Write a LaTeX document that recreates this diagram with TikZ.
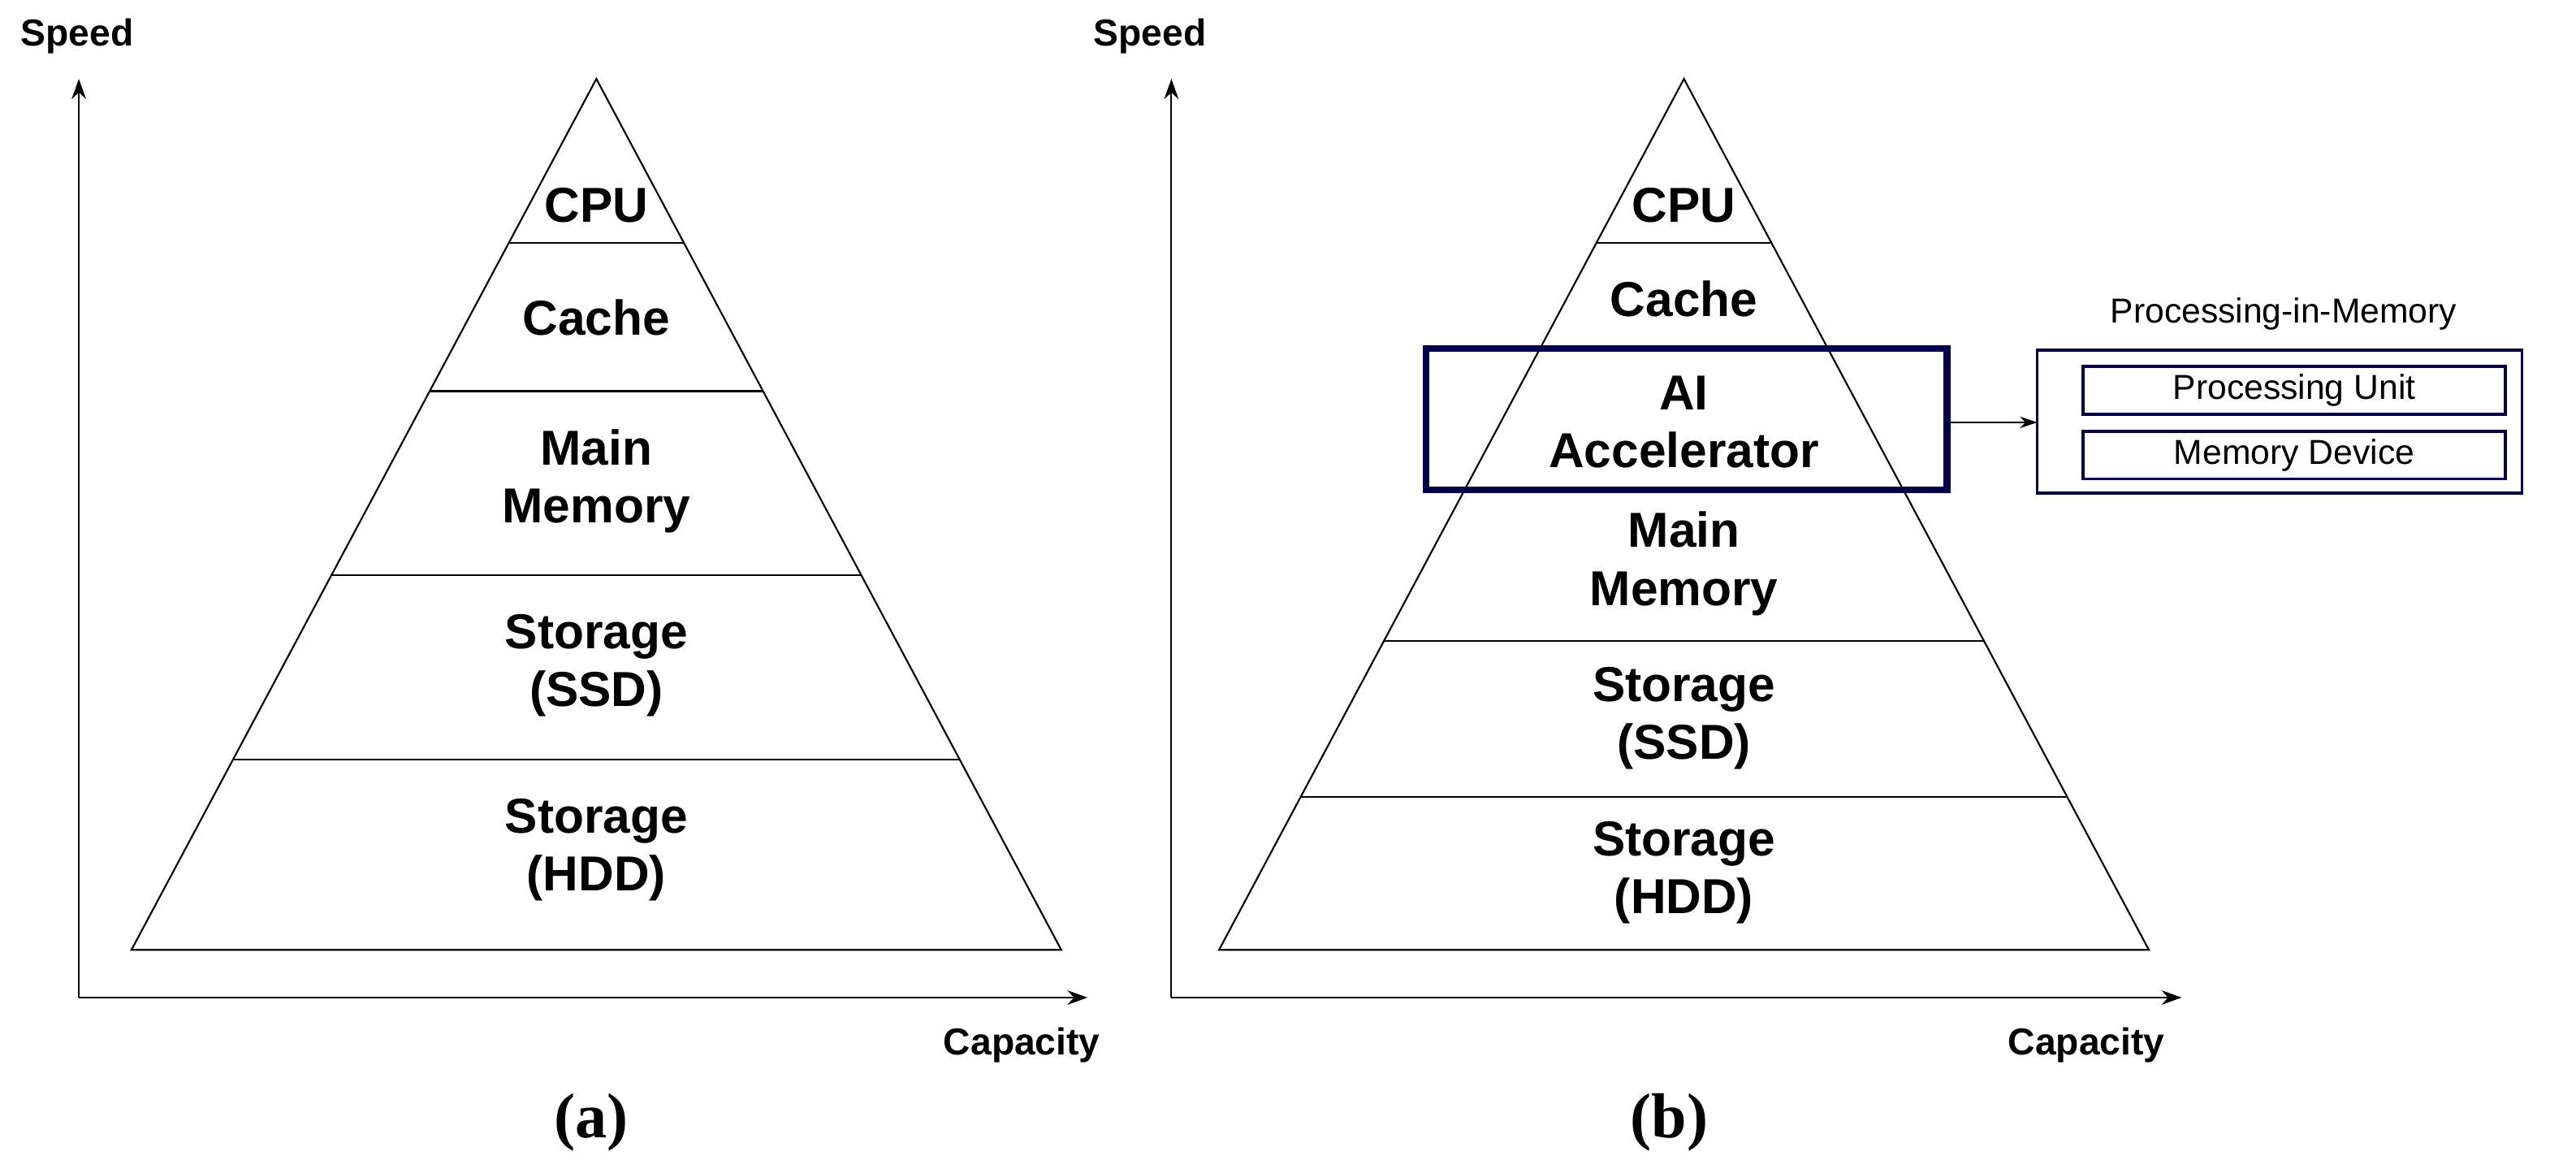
\documentclass[tikz,border=0pt]{standalone}
\usepackage{fontspec}
\setmainfont{Liberation Sans}
\newfontfamily\capfont{Liberation Serif}
\usetikzlibrary{calc,arrows.meta}

\begin{document}
\begin{tikzpicture}[x=0.02cm,y=-0.02cm,line width=0.6pt]
        \tikzstyle{axis}=[-{Stealth[length=7pt,width=5pt]}]
        \tikzstyle{level}=[font=\fontsize{17}{20}\selectfont\bfseries,align=center]
        \tikzstyle{axlabel}=[font=\fontsize{13}{16}\selectfont\bfseries]
        \tikzstyle{pim box}=[draw=blue!30!black,line width=1pt]
        \tikzstyle{pim text}=[font=\fontsize{12}{14}\selectfont]
        \tikzstyle{sub}=[font=\capfont\fontsize{22}{24}\selectfont\bfseries]
        \useasboundingbox (0,0) rectangle (1568,711);

        % Left pyramid (a)
        \coordinate (a-O) at (48,607);
        \coordinate (a-Y) at (48,48);
        \coordinate (a-X) at (662,607);
        \draw[axis] (a-O) -- (a-Y);
        \draw[axis] (a-O) -- (a-X);
        \node[axlabel] (a-speed) at (47,22) {Speed};
        \node[axlabel] (a-cap) at (622,636) {Capacity};
        \coordinate (a-top) at (363,48);
        \coordinate (a-bl) at (80,578);
        \coordinate (a-br) at (646,578);
        \draw (a-top) -- (a-bl) -- (a-br) -- cycle;
        \foreach \y in {148,238,350,462}
            \draw ($(a-top)!{(\y-48)/530}!(a-bl)$) -- ($(a-top)!{(\y-48)/530}!(a-br)$);
        \node[level] (a-cpu) at (363,125) {CPU};
        \node[level] (a-cache) at (363,193) {Cache};
        \node[level] (a-mem) at (363,293) {Main\\Memory};
        \node[level] (a-ssd) at (363,405) {Storage\\(SSD)};
        \node[level] (a-hdd) at (363,517) {Storage\\(HDD)};
        \node[sub] (a-lab) at (360,683) {(a)};

        % Right pyramid (b)
        \coordinate (b-O) at (713,607);
        \coordinate (b-Y) at (713,48);
        \coordinate (b-X) at (1328,607);
        \draw[axis] (b-O) -- (b-Y);
        \draw[axis] (b-O) -- (b-X);
        \node[axlabel] (b-speed) at (700,22) {Speed};
        \node[axlabel] (b-cap) at (1270,636) {Capacity};
        \coordinate (b-top) at (1025,48);
        \coordinate (b-bl) at (742,578);
        \coordinate (b-br) at (1308,578);
        \draw (b-top) -- (b-bl) -- (b-br) -- cycle;
        \foreach \y in {148,212,298,390,485}
            \draw ($(b-top)!{(\y-48)/530}!(b-bl)$) -- ($(b-top)!{(\y-48)/530}!(b-br)$);
        \node[level] (b-cpu) at (1025,125) {CPU};
        \node[level] (b-cache) at (1025,182) {Cache};
        \node[level] (b-ai) at (1025,257) {AI\\Accelerator};
        \node[level] (b-mem) at (1025,343) {Main\\Memory};
        \node[level] (b-ssd) at (1025,437) {Storage\\(SSD)};
        \node[level] (b-hdd) at (1025,531) {Storage\\(HDD)};
        \node[sub] (b-lab) at (1016,683) {(b)};

        % Accelerator highlight and PIM block
        \draw[draw=blue!30!black,line width=2.4pt] (868,212) rectangle (1185,298);
        \coordinate (ai-e) at (1185,257);
        \draw[pim box] (1240,213) rectangle (1535,300);
        \node[pim text] (pim) at (1390,191) {Processing-in-Memory};
        \node[pim box,pim text,minimum width=257*0.02cm,minimum height=29*0.02cm,inner sep=0pt] (pu) at (1396.5,237.5) {Processing Unit};
        \node[pim box,pim text,minimum width=257*0.02cm,minimum height=29*0.02cm,inner sep=0pt] (md) at (1396.5,277) {Memory Device};
        \coordinate (pim-w) at (1240,257);
        \draw[-{Stealth[length=6pt,width=4pt]}] (ai-e) -- (pim-w);
\end{tikzpicture}
\end{document}
